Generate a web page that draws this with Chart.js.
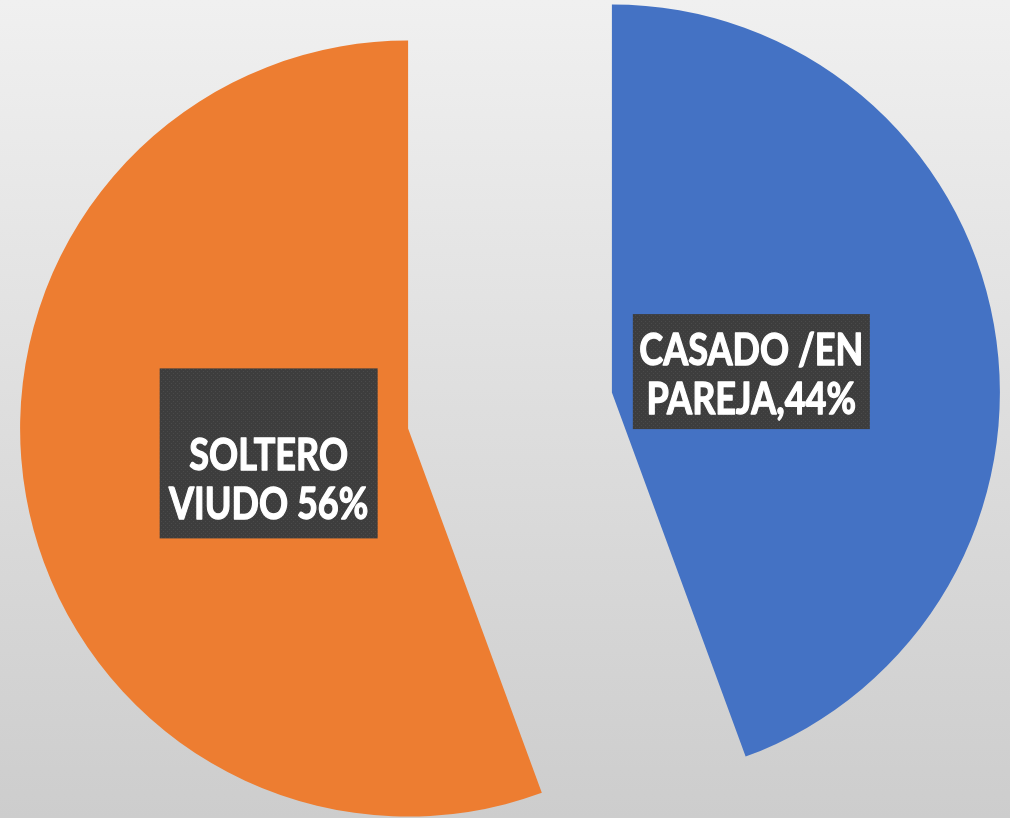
<!DOCTYPE html>
<html>
<head>
<meta charset="utf-8">
<script src="https://cdn.jsdelivr.net/npm/chart.js@4/dist/chart.umd.min.js"></script>
<style>
  html, body { margin: 0; padding: 0; }
  body { width: 1010px; height: 818px; background: linear-gradient(to bottom, #f0f0f0 0%, #dedede 50%, #cdcdcd 100%); }
  #wrap { position: relative; width: 1010px; height: 818px; }
</style>
</head>
<body>
<div id="wrap"><canvas id="c" width="1010" height="818"></canvas></div>
<script>
// ---- data ----
const categories = ["CASADO /EN PAREJA", "SOLTERO VIUDO"];
const values = [44.4, 55.6];
const labelLines = [["CASADO /EN", "PAREJA,44%"], ["SOLTERO", "VIUDO 56%"]];
const colors = ["#4472C4", "#ED7D31"];

// ---- styling ----
const EXPLODE = 103.5;
const RADIUS = 388;
const LABEL_DIST = 0.365;
const boxStyle = [
  { extraTop: 0, w: 237, dy: 4, base: 51 },
  { extraTop: 55, w: 218, dy: 0, base: 47 }
];

function makePattern(ctx) {
  const p = document.createElement('canvas');
  p.width = 4; p.height = 4;
  const g = p.getContext('2d');
  g.fillStyle = '#3d3d3d';
  g.fillRect(0, 0, 4, 4);
  g.fillStyle = '#4a4a4a';
  g.fillRect(1, 1, 1, 1);
  g.fillRect(3, 3, 1, 1);
  return ctx.createPattern(p, 'repeat');
}

function shift(el) {
  const mid = (el.startAngle + el.endAngle) / 2;
  return { dx: Math.cos(mid) * EXPLODE, dy: Math.sin(mid) * EXPLODE, mid };
}

const explodePlugin = {
  id: 'explode',
  beforeDatasetDraw(chart, args) {
    const ctx = chart.ctx;
    args.meta.data.forEach(el => {
      const s = shift(el);
      ctx.save();
      ctx.translate(s.dx, s.dy);
      el.draw(ctx);
      ctx.restore();
    });
    return false;
  }
};

const labelPlugin = {
  id: 'boxLabels',
  afterDraw(chart) {
    const ctx = chart.ctx;
    const meta = chart.getDatasetMeta(0);
    const pat = makePattern(ctx);
    ctx.save();
    ctx.font = 'bold 43px Lato, "Open Sans", sans-serif';
    ctx.textAlign = 'center';
    ctx.textBaseline = 'alphabetic';
    const sx = 224 / ctx.measureText(labelLines[0][0]).width;
    meta.data.forEach((el, i) => {
      const s = shift(el);
      const r = el.outerRadius * LABEL_DIST;
      const ax = el.x + s.dx + Math.cos(s.mid) * r;
      const st = boxStyle[i];
      const ay = el.y + s.dy + Math.sin(s.mid) * r + st.dy;
      const lines = labelLines[i];
      const lineH = 49;
      const h = lines.length * lineH + 17 + st.extraTop;
      const left = ax - st.w / 2;
      const top = ay - h / 2;
      ctx.fillStyle = pat;
      ctx.fillRect(left, top, st.w, h);
      ctx.fillStyle = '#ffffff';
      ctx.strokeStyle = '#ffffff';
      ctx.lineWidth = 1.3;
      ctx.lineJoin = 'round';
      lines.forEach((ln, k) => {
        ctx.save();
        ctx.translate(ax, top + st.extraTop + st.base + k * lineH);
        ctx.scale(sx, 1);
        ctx.fillText(ln, 0, 0);
        ctx.strokeText(ln, 0, 0);
        ctx.restore();
      });
    });
    ctx.restore();
  }
};

new Chart(document.getElementById('c'), {
  type: 'pie',
  data: {
    labels: categories,
    datasets: [{
      data: values,
      backgroundColor: colors,
      borderWidth: 0,
      clip: false
    }]
  },
  options: {
    responsive: false,
    animation: false,
    radius: RADIUS,
    layout: { padding: { left: 10, top: 3, right: 0, bottom: 0 } },
    plugins: { legend: { display: false }, tooltip: { enabled: false } }
  },
  plugins: [explodePlugin, labelPlugin]
});
</script>
</body>
</html>
